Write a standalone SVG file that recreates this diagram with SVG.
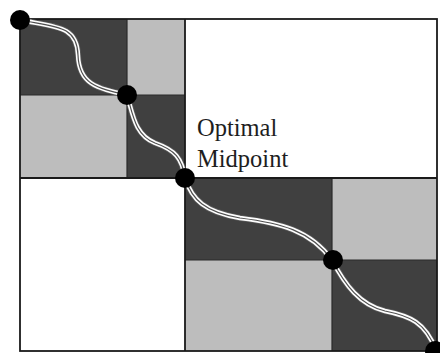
<svg xmlns="http://www.w3.org/2000/svg" width="440" height="353" viewBox="0 0 440 353">
  <style>
    .dark { fill: #404040; }
    .light { fill: #bdbdbd; }
    .grid { fill: none; stroke: #2a2a2a; stroke-width: 1.2; }
    .frame { fill: none; stroke: #1a1a1a; stroke-width: 1.8; }
    .path-edge { fill: none; stroke: #5a5a5a; stroke-width: 6; stroke-linecap: round; }
    .path-white { fill: none; stroke: #ffffff; stroke-width: 4.4; stroke-linecap: round; }
    .path-core { fill: none; stroke: #505050; stroke-width: 1.2; stroke-linecap: round; }
    .dot { fill: #000000; }
    .label { font-family: "Liberation Serif", "Times New Roman", serif; font-size: 24.5px; fill: #1e1e1e; }
  </style>

  <rect x="0" y="0" width="440" height="353" fill="#ffffff"/>

  <!-- upper-left block -->
  <g id="block-upper">
    <rect class="dark" x="20" y="19" width="107" height="76"/>
    <rect class="light" x="127" y="19" width="58" height="76"/>
    <rect class="light" x="20" y="95" width="107" height="83"/>
    <rect class="dark" x="127" y="95" width="58" height="83"/>
    <path class="grid" d="M127,19 V178 M20,95 H185"/>
  </g>

  <!-- lower-right block -->
  <g id="block-lower">
    <rect class="dark" x="185" y="178" width="147" height="82"/>
    <rect class="light" x="332" y="178" width="105" height="82"/>
    <rect class="light" x="185" y="260" width="147" height="91"/>
    <rect class="dark" x="332" y="260" width="105" height="91"/>
    <path class="grid" d="M332,178 V351 M185,260 H437"/>
  </g>

  <!-- outer frame and main dividers -->
  <g id="frame">
    <rect class="frame" x="20" y="19" width="417" height="332"/>
    <path class="frame" d="M185,19 V351 M20,178 H437"/>
  </g>

  <!-- path through the grid -->
  <g id="connectors">
    <g id="route">
      <path class="path-edge" d="M20,20 C55,27 77,25 78,55 C79,84 96,88 127,95 C133,115 135,135 155,143 C175,150 182,158 185,178 C192,200 205,212 240,218 C280,223 310,230 332,260 C345,285 360,305 385,311 C410,316 425,322 436,350"/>
      <path class="path-white" d="M20,20 C55,27 77,25 78,55 C79,84 96,88 127,95 C133,115 135,135 155,143 C175,150 182,158 185,178 C192,200 205,212 240,218 C280,223 310,230 332,260 C345,285 360,305 385,311 C410,316 425,322 436,350"/>
      <path class="path-core" d="M20,20 C55,27 77,25 78,55 C79,84 96,88 127,95 C133,115 135,135 155,143 C175,150 182,158 185,178 C192,200 205,212 240,218 C280,223 310,230 332,260 C345,285 360,305 385,311 C410,316 425,322 436,350"/>
    </g>
  </g>

  <!-- waypoints -->
  <g id="point-start"><circle class="dot" cx="20" cy="20" r="10"/></g>
  <g id="point-1"><circle class="dot" cx="127" cy="95" r="10"/></g>
  <g id="point-mid"><circle class="dot" cx="185" cy="178" r="10"/></g>
  <g id="point-3"><circle class="dot" cx="333" cy="260" r="10"/></g>
  <g id="point-end"><circle class="dot" cx="435" cy="351" r="10"/></g>

  <g id="label-midpoint">
    <text class="label" x="197" y="136">Optimal</text>
    <text class="label" x="197" y="167">Midpoint</text>
  </g>
</svg>
